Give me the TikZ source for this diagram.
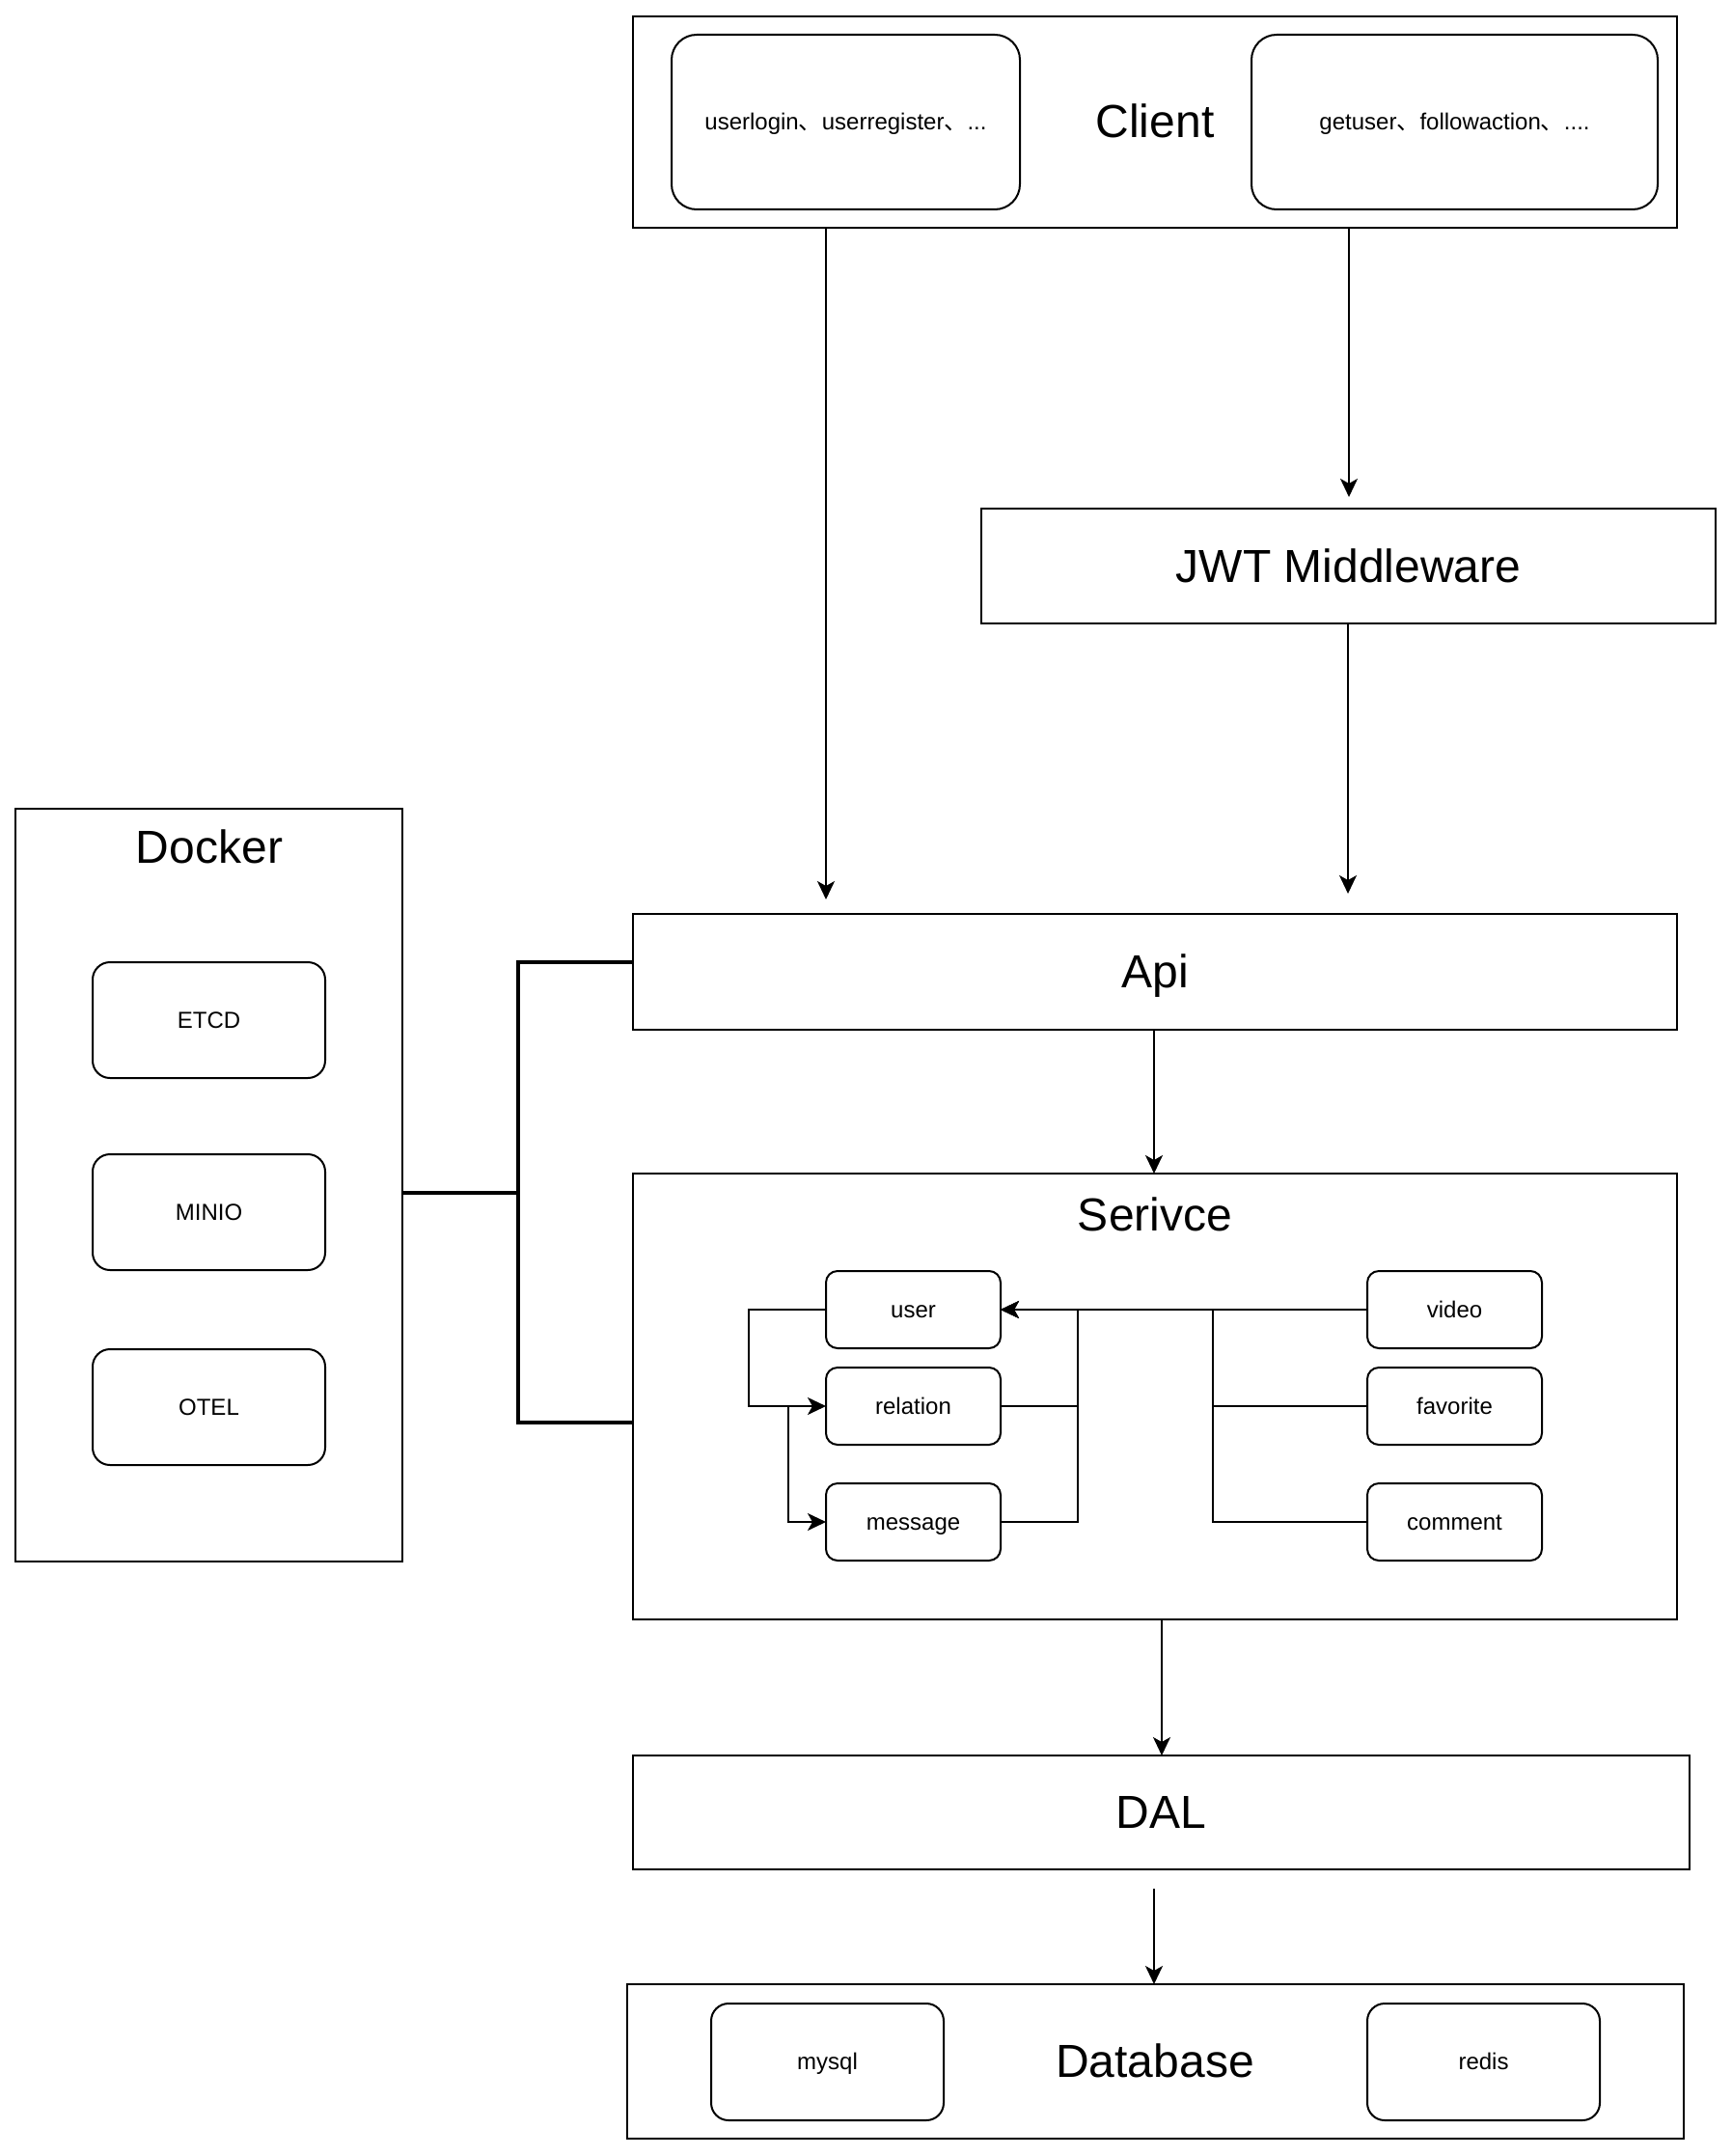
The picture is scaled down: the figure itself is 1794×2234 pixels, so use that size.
\documentclass[tikz,border=0pt]{standalone}
\usepackage{fontspec}
\setmainfont{Liberation Sans}
\newfontfamily\cjk{Noto Sans CJK SC}
\usetikzlibrary{arrows.meta}
\begin{document}
\begin{tikzpicture}[x=1pt,y=-1pt,
  box/.style={draw=black,line width=2pt,inner sep=0pt,outer sep=0pt,rectangle},
  rbox/.style={box,rounded corners=#1},
  big/.style={font=\fontsize{48}{56}\selectfont,text height=43pt,text depth=10pt},
  small/.style={font=\fontsize{24}{28}\selectfont,text height=21.5pt,text depth=5pt},
  conn/.style={line width=2pt},
  arr/.style={conn,-{Stealth[length=19pt,width=18pt,inset=5pt]}},
  dline/.style={line width=4pt}]
\useasboundingbox (0,0) rectangle (1794,2234);

% Client
\node[box,minimum width=1082pt,minimum height=219pt] (client) at (1197,126.5) {};
\node[big] (clientt) at (1197,126.5) {Client};
\node[rbox=26pt,minimum width=361pt,minimum height=181pt,small] (cl) at (876.5,126.5) {userlogin{\cjk 、}userregister{\cjk 、}...};
\node[rbox=26pt,minimum width=421pt,minimum height=181pt,small] (cr) at (1507.5,126.5) {getuser{\cjk 、}followaction{\cjk 、}....};

% JWT
\node[box,minimum width=761pt,minimum height=119pt,big] (jwt) at (1397.5,586.5) {JWT Middleware};

% Api
\node[box,minimum width=1082pt,minimum height=120pt,big] (api) at (1197,1007) {Api};

% Service
\node[box,minimum width=1082pt,minimum height=462pt] (service) at (1197,1447) {};
\node[big] (servicet) at (1197,1259) {Serivce};
\node[rbox=12pt,minimum width=181pt,minimum height=80pt,small] (user) at (946.5,1357) {user};
\node[rbox=12pt,minimum width=181pt,minimum height=80pt,small] (relation) at (946.5,1457) {relation};
\node[rbox=12pt,minimum width=181pt,minimum height=80pt,small] (message) at (946.5,1577) {message};
\node[rbox=12pt,minimum width=181pt,minimum height=80pt,small] (video) at (1507.5,1357) {video};
\node[rbox=12pt,minimum width=181pt,minimum height=80pt,small] (favorite) at (1507.5,1457) {favorite};
\node[rbox=12pt,minimum width=181pt,minimum height=80pt,small] (comment) at (1507.5,1577) {comment};

% Docker
\node[box,minimum width=401pt,minimum height=780pt] (docker) at (216.5,1228) {};
\node[big] (dockert) at (217,878) {Docker};
\node[rbox=18pt,minimum width=241pt,minimum height=120pt,small] (etcd) at (216.5,1057) {ETCD};
\node[rbox=18pt,minimum width=241pt,minimum height=120pt,small] (minio) at (216.5,1256) {MINIO};
\node[rbox=18pt,minimum width=241pt,minimum height=120pt,small] (otel) at (216.5,1458) {OTEL};

% DAL
\node[box,minimum width=1095pt,minimum height=118pt,big] (dal) at (1203.5,1878) {DAL};

% Database
\node[box,minimum width=1095pt,minimum height=160pt] (db) at (1197.5,2136) {};
\node[big] (dbt) at (1197,2136) {Database};
\node[rbox=18pt,minimum width=241pt,minimum height=121pt,small] (mysql) at (857.5,2136.5) {mysql};
\node[rbox=18pt,minimum width=241pt,minimum height=121pt,small] (redis) at (1537.5,2136.5) {redis};

% coordinates for free ends
\coordinate (jwtin) at (1398,515);
\coordinate (apiinL) at (856,932);
\coordinate (apiinR) at (1397,926);
\coordinate (apiout) at (1196,1067);
\coordinate (svcout) at (1204,1678);
\coordinate (dalout) at (1196,1957);
\coordinate (jx) at (537,1236);

% main arrows
\draw[arr] (client.south -| jwtin) -- (jwtin);
\draw[arr] (client.south -| apiinL) -- (apiinL);
\draw[arr] (jwt.south -| apiinR) -- (apiinR);
\draw[arr] (apiout) -- (service.north -| apiout);
\draw[arr] (svcout) -- (dal.north -| svcout);
\draw[arr] (dalout) -- (db.north -| dalout);

% service inner connectors
\draw[arr] (user.west) -- ++(-80,0) |- (relation.west);
\draw[arr] ([xshift=-39pt]relation.west) |- (message.west);
\draw[conn] (relation.east) -- ++(80,0);
\draw[arr] (message.east) -- ++(80,0) |- (user.east);
\draw[conn] (favorite.west) -- ++(-160,0);
\draw[arr] (comment.west) -- ++(-160,0) |- (user.east);
\draw[arr] (video.west) -- (user.east);

% docker connectors
\draw[dline] ([yshift=-8pt]docker.east) -- (jx);
\draw[dline] ([yshift=10pt]api.west) -| (jx) |- ([yshift=-27pt]service.west);
\end{tikzpicture}
\end{document}
